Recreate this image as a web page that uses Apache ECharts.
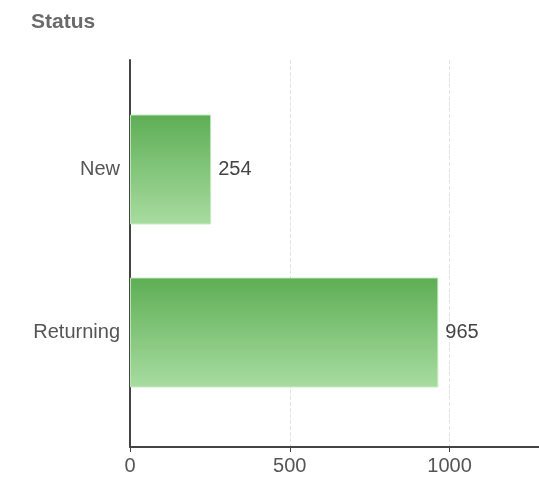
<!DOCTYPE html>
<html><head><meta charset="utf-8">
<script src="https://cdn.jsdelivr.net/npm/echarts@6/dist/echarts.min.js"></script>
<style>html,body{margin:0;padding:0;background:#fff}#c{width:539px;height:481px}</style>
</head><body><div id="c"></div>
<script>
var categories = ['New', 'Returning'];
var values = [254, 965];
var xTicks = [0, 500, 1000];
var chart = echarts.init(document.getElementById('c'));
var font = 'Liberation Sans, Arial, sans-serif';
chart.setOption({
  animation: false,
  title: {text: 'Status', left: 26, top: 7, textStyle: {fontFamily: font, fontSize: 21, fontWeight: 'bold', color: '#6a6a6a'}},
  grid: [
    {left: 130, right: 0, top: 60, bottom: 34},
    {left: 130, right: 0, top: 88, height: 326}
  ],
  xAxis: [
    {gridIndex: 0, type: 'value', min: 0, max: 1280, interval: 500,
     axisLine: {show: true, lineStyle: {color: '#444', width: 2}},
     axisTick: {show: true, length: 5, lineStyle: {color: '#444'}},
     axisLabel: {showMaxLabel: false, color: '#555', fontFamily: font, fontSize: 20, margin: 9,
       formatter: function(v){ return xTicks.indexOf(v) >= 0 ? String(v) : ''; }},
     splitLine: {show: true, lineStyle: {type: 'dashed', color: '#e2e2e2', width: 1}}},
    {gridIndex: 1, type: 'value', min: 0, max: 1280, show: false}
  ],
  yAxis: [
    {gridIndex: 0, type: 'category', data: categories,
     axisLine: {show: true, lineStyle: {color: '#444', width: 2}},
     axisTick: {show: false}, axisLabel: {show: false}, splitLine: {show: false}},
    {gridIndex: 1, type: 'category', data: categories, inverse: true,
     axisLine: {show: false}, axisTick: {show: false},
     axisLabel: {color: '#555', fontFamily: font, fontSize: 20, margin: 10, padding: [4, 0, 0, 0]}}
  ],
  series: [{
    type: 'bar', xAxisIndex: 1, yAxisIndex: 1, data: values, barWidth: 110,
    itemStyle: {
      color: new echarts.graphic.LinearGradient(0, 0, 0, 1, [
        {offset: 0, color: '#5eae55'}, {offset: 1, color: '#a8dca0'}]),
      borderColor: 'rgba(200,235,195,0.9)', borderWidth: 1
    },
    label: {show: true, position: 'right', distance: 7, color: '#444', fontFamily: font, fontSize: 20}
  }]
});
</script></body></html>
